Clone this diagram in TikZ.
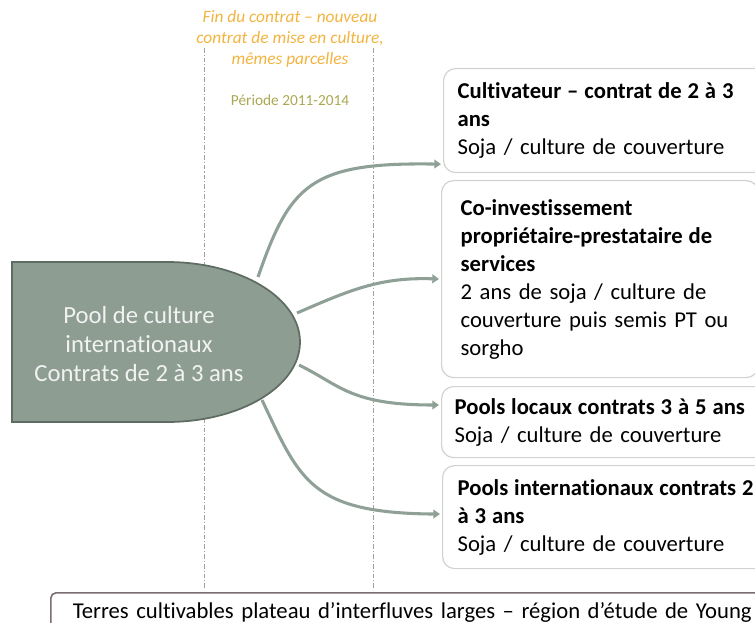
\documentclass[tikz,border=0pt]{standalone}
\usepackage{fontspec}
\setmainfont{Carlito}[Ligatures=NoCommon]
\usepackage{tikz}
\usetikzlibrary{arrows.meta,calc}

\definecolor{poolfill}{RGB}{141,157,146}
\definecolor{pooldraw}{RGB}{94,108,98}
\definecolor{arrowgrey}{RGB}{143,160,150}
\definecolor{boxdraw}{RGB}{208,212,209}
\definecolor{finorange}{RGB}{242,180,64}
\definecolor{periodolive}{RGB}{170,168,80}
\definecolor{terresdraw}{RGB}{122,110,113}
\definecolor{guidegrey}{RGB}{160,160,160}

\newcommand{\boldline}[1]{{\bfseries\spaceskip=0.26em\relax #1}}

\tikzset{
  optionbox/.style={draw=boxdraw, line width=0.9pt, fill=white, rounded corners=9pt, anchor=north west, align=left, inner xsep=10.5pt, inner ysep=0pt, text width=240pt, font=\fontsize{17}{21}\selectfont},
  flowarrow/.style={draw=arrowgrey, line width=2.3pt, -{Triangle[length=5pt,width=6.5pt]}, shorten >=1.5pt},
  guideline/.style={draw=guidegrey, line width=0.6pt, dash pattern={on 3.5pt off 1.5pt on 0.8pt off 1.5pt}}
}

\begin{document}
\begin{tikzpicture}[x=0.75pt,y=0.75pt,yscale=-1,xscale=1]
            \useasboundingbox (0,0) rectangle (755,623);
            \clip (0,0) rectangle (755,623);

            %Straight Lines [id:guide1]
            \draw [guideline] (204,48) -- (204,590) ;
            %Straight Lines [id:guide2]
            \draw [guideline] (373,48) -- (373,590) ;

            %Shape: Delay [id:pool]
            \draw [draw=pooldraw, fill=poolfill, line width=1.3pt] (12,262) -- (167,262) .. controls (240.5,262) and (300,297.8) .. (300,342) .. controls (300,386.2) and (240.5,422) .. (167,422) -- (12,422) -- cycle ;
            \coordinate (s1) at (258,277);
            \coordinate (s2) at (297,313);
            \coordinate (s3) at (299,365);
            \coordinate (s4) at (262,400);

            % Text Node
            \node [text={rgb,255:red,242;green,242;blue,242}, align=center, font=\fontsize{18.5}{21.5}\selectfont] (pool) at (139,344) {Pool de culture\\internationaux\\Contrats de 2 à 3 ans};
            % Text Node
            \node [text=finorange, align=center, font=\itshape\fontsize{13}{16}\selectfont] (fin) at (290,39) {Fin du contrat – nouveau\\contrat de mise en culture,\\mêmes parcelles};
            % Text Node
            \node [text=periodolive, font=\fontsize{11.5}{13}\selectfont] (periode) at (290,100) {Période 2011-2014};

            % Text Node
            \node [optionbox, minimum height=78pt] (b1) at (443,68) {\boldline{Cultivateur – contrat de 2 à 3}\\\boldline{ans}\\Soja / culture de couverture};
            % Text Node
            \node [optionbox, minimum height=147.75pt, inner xsep=14.25pt, text width=209pt] (b2) at (441,180) {\boldline{Co-investissement}\\\boldline{propriétaire-prestataire de}\\\boldline{services}\\2 ans de soja / culture de\\couverture puis semis PT ou\\sorgho};
            % Text Node
            \node [optionbox, minimum height=53.25pt, inner xsep=9.75pt] (b3) at (441,386) {\boldline{Pools locaux contrats 3 à 5 ans}\\Soja / culture de couverture};
            % Text Node
            \node [optionbox, minimum height=77.25pt, inner xsep=11.25pt] (b4) at (442,465) {\boldline{Pools internationaux contrats 2}\\\boldline{à 3 ans}\\Soja / culture de couverture};

            %Curve Lines [id:arrow1]
            \draw [flowarrow] (s1) .. controls (290,185) and (310,162) .. ($(b1.south west)+(0,-9)$) ;
            %Curve Lines [id:arrow2]
            \draw [flowarrow] (s2) .. controls (350,290) and (380,277) .. (b2.west) ;
            %Curve Lines [id:arrow3]
            \draw [flowarrow] (s3) .. controls (340,385) and (350,405) .. ($(b3.north west)+(0,19)$) ;
            %Curve Lines [id:arrow4]
            \draw [flowarrow] (s4) .. controls (300,480) and (310,513) .. ($(b4.west)+(0,-3)$) ;

            % Text Node
            \node [draw=terresdraw, line width=1.2pt, fill=white, rounded corners=4pt, anchor=north west, minimum height=30pt, inner xsep=16.5pt, inner ysep=0pt, text width=560pt, align=left, font=\fontsize{17}{21}\selectfont] (terres) at (50,592) {Terres cultivables plateau d’interfluves larges – région d’étude de Young};

\end{tikzpicture}
\end{document}
